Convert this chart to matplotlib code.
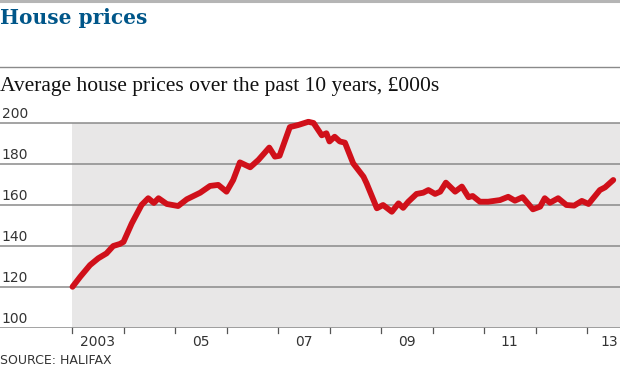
import matplotlib
matplotlib.use('Agg')
import matplotlib.pyplot as plt
from matplotlib.lines import Line2D

# Halifax average house price, £000s
years = [2003.01, 2003.16, 2003.35, 2003.51, 2003.67, 2003.80, 2003.93, 2004.00,
         2004.16, 2004.35, 2004.48, 2004.59, 2004.68, 2004.84, 2005.06, 2005.23,
         2005.49, 2005.68, 2005.84, 2006.00, 2006.13, 2006.26, 2006.46, 2006.62,
         2006.83, 2006.94, 2007.03, 2007.23, 2007.39, 2007.59, 2007.69, 2007.85,
         2007.94, 2008.00, 2008.10, 2008.20, 2008.30, 2008.46, 2008.66, 2008.72,
         2008.92, 2009.04, 2009.21, 2009.34, 2009.43, 2009.53, 2009.69, 2009.82,
         2009.92, 2010.05, 2010.15, 2010.26, 2010.44, 2010.57, 2010.70, 2010.78,
         2010.92, 2011.08, 2011.31, 2011.47, 2011.60, 2011.75, 2011.95, 2012.09,
         2012.18, 2012.28, 2012.44, 2012.60, 2012.75, 2012.90, 2013.03, 2013.12,
         2013.25, 2013.35, 2013.51]
prices = [120.1, 125.0, 130.7, 134.0, 136.4, 140.0, 141.0, 142.0,
          151.0, 160.0, 163.3, 161.0, 163.3, 160.5, 159.5, 162.8,
          166.0, 169.3, 169.8, 166.5, 172.2, 180.8, 178.4, 182.0,
          188.0, 183.6, 184.0, 198.0, 199.0, 200.6, 200.0, 194.0,
          195.0, 191.0, 193.3, 191.0, 190.4, 180.3, 173.8, 170.6,
          158.4, 160.0, 156.7, 160.8, 158.6, 161.6, 165.4, 166.0,
          167.3, 165.4, 166.5, 170.9, 166.5, 169.0, 163.8, 164.4,
          161.6, 161.6, 162.4, 164.0, 162.1, 163.8, 157.9, 159.2,
          163.3, 161.1, 163.3, 160.0, 159.7, 162.0, 160.5, 163.3,
          167.3, 168.6, 172.2]

y_ticks = [100, 120, 140, 160, 180, 200]
year_ticks = list(range(2003, 2014))
year_labels = ['2003', '05', '07', '09', '11', '13']
label_years = [2003, 2005, 2007, 2009, 2011, 2013]

title = 'House prices'
subtitle = 'Average house prices over the past 10 years, £000s'
source = 'SOURCE: HALIFAX'

W, H = 620, 372
fig = plt.figure(figsize=(W / 100, H / 100), dpi=100)

# axes geometry in pixels: 2003 at x=72, 51.5px per year; 100 at y=328, 2.05px per unit
px_year = 51.5
px_unit = 2.05
x0 = 2003 - 72 / px_year
x1 = 2003 + (W - 72) / px_year
ytop = 210
bottom_px = H - 328
ax = fig.add_axes([0, bottom_px / H, 1, (ytop - 100) * px_unit / H])
ax.set_xlim(x0, x1)
ax.set_ylim(100, ytop)
ax.axis('off')

# shaded band
ax.fill_between([2003, x1], 100, 200, color='#e8e7e7', lw=0, zorder=0)

# gridlines and labels
for v in y_ticks:
    ax.plot([x0, x1], [v, v], color='#8a8a8a', lw=1.1, zorder=1, solid_capstyle='butt')
    ax.text(x0 + 0.03, v + 0.9, str(v), ha='left', va='bottom',
            fontsize=10, color='#333333', family='DejaVu Sans')

# ticks below the baseline
for yr in year_ticks:
    ax.plot([yr, yr], [100, 100 - 5 / px_unit], color='#555555', lw=0.9,
            clip_on=False, zorder=1)
for yr, lab in zip(label_years, year_labels):
    xpos = min(yr + 0.5, x1 - 0.2)
    ax.text(xpos, 100 - 7 / px_unit, lab, ha='center', va='top',
            fontsize=10, color='#333333', family='DejaVu Sans')

ax.plot(years, prices, color='#d0101a', lw=4.2, solid_joinstyle='round',
        solid_capstyle='round', zorder=3, clip_on=False)

# header
fig.add_artist(Line2D([0, 1], [1 - 1.2 / H, 1 - 1.2 / H], color='#b5b5b5', lw=2.2))
fig.text(0.0, 1 - 18 / H, title, ha='left', va='center', fontsize=14.5,
         fontweight='bold', color='#005689', family='DejaVu Serif')
fig.add_artist(Line2D([0, 1], [1 - 67 / H, 1 - 67 / H], color='#8a8a8a', lw=1.0))
fig.text(0.0, 1 - 86 / H, subtitle, ha='left', va='center', fontsize=15.5,
         color='#111111', family='Liberation Serif')
fig.text(0.0, 1 - 360 / H, source, ha='left', va='center', fontsize=9,
         color='#333333', family='DejaVu Sans')

fig.savefig('out.png', dpi=100)
